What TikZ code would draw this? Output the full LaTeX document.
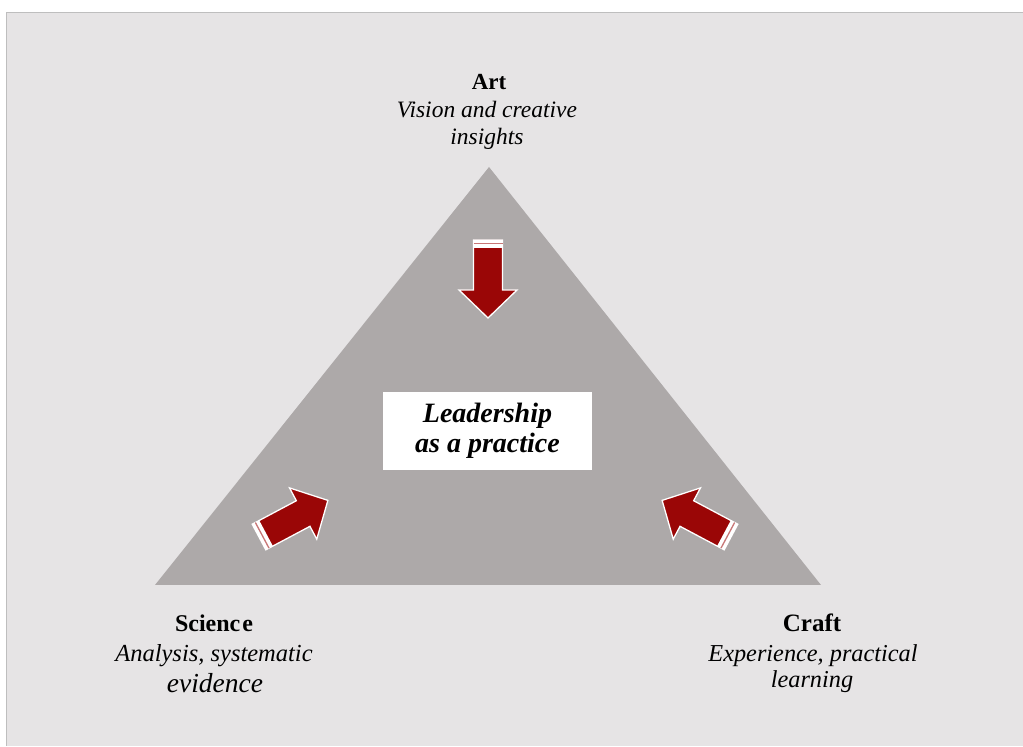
\documentclass[tikz,border=0pt]{standalone}
\usepackage{fontspec}
\setmainfont{Liberation Serif}
\definecolor{panel}{HTML}{E6E4E5}
\definecolor{panelline}{HTML}{BEBEBE}
\definecolor{tri}{HTML}{ADA9A9}
\definecolor{arrowred}{HTML}{9A0606}
\begin{document}
\begin{tikzpicture}[x=1pt,y=1pt,
  title/.style={font=\fontsize{23}{26}\selectfont\bfseries, anchor=base, inner sep=0pt},
  desc/.style={font=\fontsize{23.5}{26}\selectfont\itshape, anchor=base, inner sep=0pt},
  centrebox/.style={fill=white, minimum width=209pt, minimum height=78pt, inner sep=0pt,
    align=center, font=\fontsize{28}{30}\selectfont\bfseries\itshape},
  practicearrow/.pic={
    % arrow body, tail at the origin, pointing along +x
    \path[fill=arrowred, draw=white, line width=1.3pt, line join=miter]
      (0,-14.5) -- (50,-14.5) -- (50,-29) -- (78,0) -- (50,29) -- (50,14.5) -- (0,14.5) -- cycle;
    % striped tail
    \path[fill=white] (0,-14.5) rectangle (8,14.5);
    \draw[arrowred!55, line width=1.3pt] (3.6,-14.5) -- (3.6,14.5);
  }]
\useasboundingbox (0,0) rectangle (1023,747);
% page and panel
\fill[white] (0,0) rectangle (1023,747);
\fill[panel] (6,1) rectangle (1023,734.5);
\draw[panelline, line width=1pt] (6,1) -- (6,734.5) -- (1023,734.5);
% triangle
\fill[tri] (155,162) -- (489,580) -- (821,162) -- cycle;
% arrows towards the centre
\pic[rotate=-90] at (488,507) {practicearrow};
\pic[rotate=28] at (259,210) {practicearrow};
\pic[rotate=152] at (731,210) {practicearrow};
% centre box
\node[centrebox] (centre) at (487.5,316) {Leadership\\as a practice};
% top label
\node[title] (art) at (489,657) {Art};
\node[desc] (art1) at (487,629) {Vision and creative};
\node[desc] (art2) at (487,602) {insights};
% bottom-left label
\node[title, font=\fontsize{24}{26}\selectfont\bfseries] (science) at (214,115) {Scienc\kern2pt e};
\node[desc, font=\fontsize{24.5}{26}\selectfont\itshape] (science1) at (214,85) {Analysis, systematic};
\node[desc, font=\fontsize{27.5}{30}\selectfont\itshape] (science2) at (215,54) {evidence};
% bottom-right label
\node[title, font=\fontsize{25}{26}\selectfont\bfseries] (craft) at (812,115) {Craft};
\node[desc, font=\fontsize{24.3}{26}\selectfont\itshape] (craft1) at (813,85) {Experience, practical};
\node[desc, font=\fontsize{24.3}{26}\selectfont\itshape] (craft2) at (812,59) {learning};
\end{tikzpicture}
\end{document}
